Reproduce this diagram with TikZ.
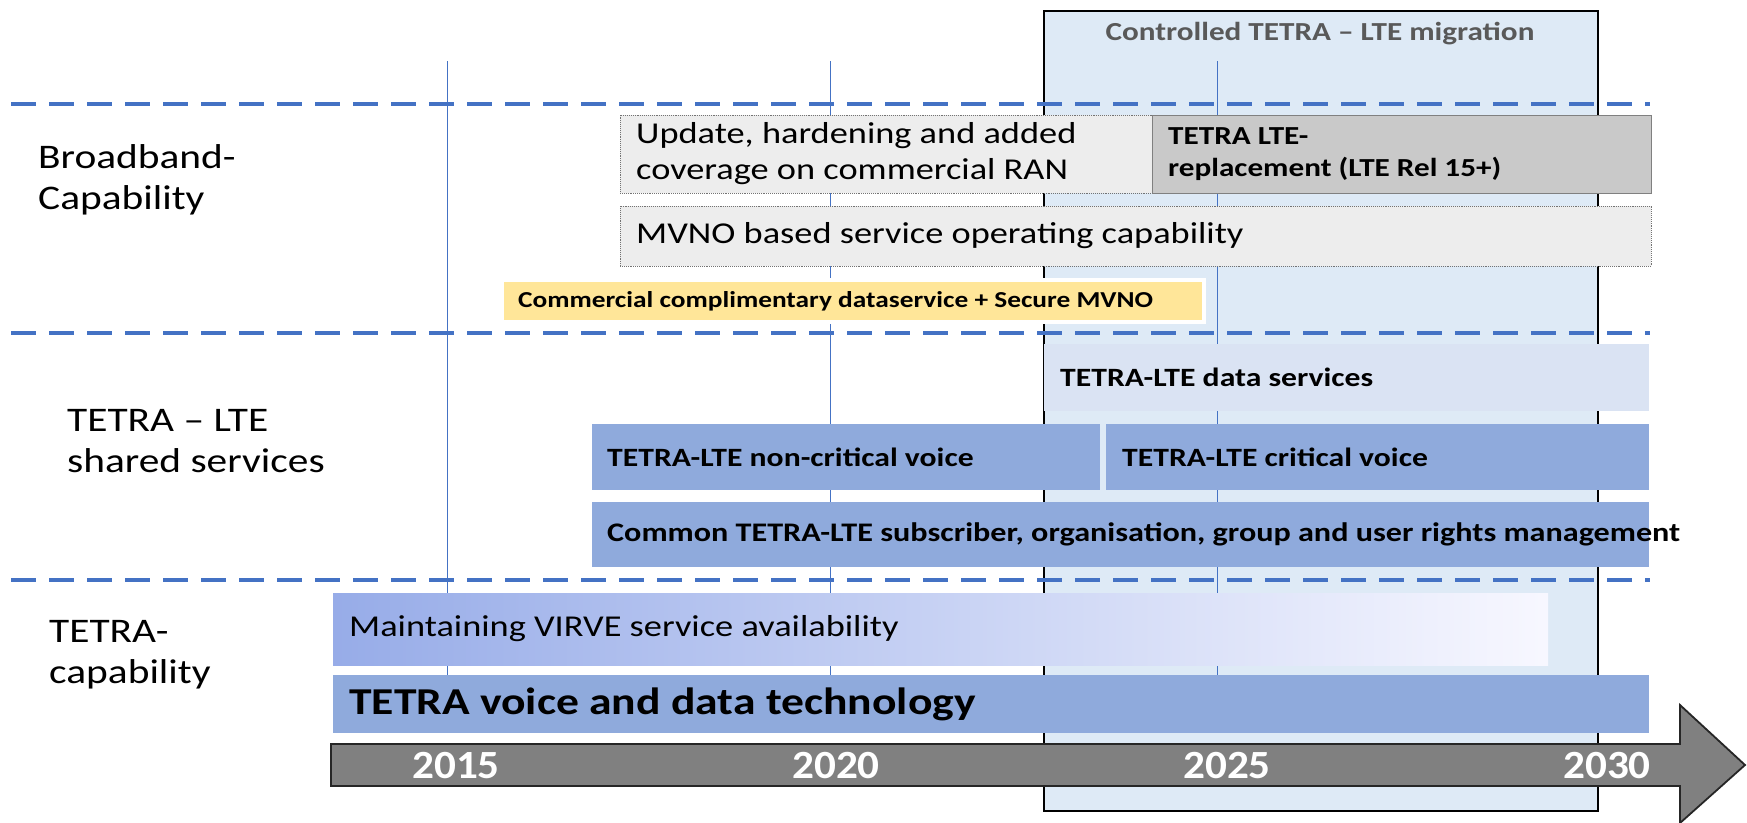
\documentclass[tikz,border=0pt]{standalone}
\usepackage{fontspec}
\setmainfont{Carlito}[FakeStretch=1.2]
\newfontfamily\yearfont{Carlito}[FakeStretch=1.08]
\definecolor{migfill}{HTML}{DEEAF6}
\definecolor{dashblue}{HTML}{4472C4}
\definecolor{greybox}{HTML}{EDEDED}
\definecolor{darkgreybox}{HTML}{C9C9C9}
\definecolor{yellowbox}{HTML}{FFE699}
\definecolor{paleblue}{HTML}{DAE3F3}
\definecolor{midblue}{HTML}{8FAADC}
\definecolor{gradleft}{HTML}{97ACE8}
\definecolor{titlegrey}{HTML}{595959}
\definecolor{axisgrey}{HTML}{808080}
\begin{document}
\begin{tikzpicture}[x=1pt,y=-1pt]
\tikzset{
  bar/.style={anchor=north west, inner sep=0pt, outer sep=0pt},
  lightbar/.style={bar, fill=greybox, draw=black!55, densely dotted, line width=0.9pt},
  regtext/.style={anchor=west, inner sep=0pt, font=\fontsize{30.3}{36}\selectfont},
  boldtext/.style={anchor=west, inner sep=0pt, font=\bfseries\fontsize{26.4}{32}\selectfont},
  sidelabel/.style={anchor=west, inner sep=0pt, align=left, font=\fontsize{34.5}{41}\selectfont},
  sep/.style={dashblue, line width=4.5pt, dash pattern=on 25pt off 13pt},
  yearline/.style={dashblue, line width=1pt},
  yeartext/.style={text=white, font=\yearfont\bfseries\fontsize{40}{44}\selectfont, inner sep=0pt},
}
\useasboundingbox (0,0) rectangle (1747,822);
% migration window
\node[bar, fill=migfill, draw=black, line width=1.8pt, minimum width=554pt, minimum height=800pt] (mig) at (1044,11) {};
\node[text=titlegrey, font=\bfseries\fontsize{26}{32}\selectfont, inner sep=0pt] (migtitle) at (1320,34) {Controlled TETRA – LTE migration};
% year grid lines
\coordinate (y15top) at (447,61);  \coordinate (y15bot) at (447,675);
\coordinate (y20top) at (830,61);  \coordinate (y20bot) at (830,675);
\coordinate (y25top) at (1217,61); \coordinate (y25bot) at (1217,675);
\draw[yearline] (y15top) -- (y15bot);
\draw[yearline] (y20top) -- (y20bot);
\draw[yearline] (y25top) -- (y25bot);
% separators
\coordinate (s1a) at (11,104); \coordinate (s1b) at (1650,104);
\coordinate (s2a) at (11,333); \coordinate (s2b) at (1650,333);
\coordinate (s3a) at (11,580); \coordinate (s3b) at (1650,580);
\draw[sep] (s1a) -- (s1b);
\draw[sep] (s2a) -- (s2b);
\draw[sep] (s3a) -- (s3b);
% side labels
\node[sidelabel] (lblbb) at (38,180) {Broadband-\\Capability};
\node[sidelabel] (lblsh) at (67,441) {TETRA – LTE\\shared services};
\node[sidelabel] (lbltc) at (49,655) {TETRA-\\capability};
% broadband bars
\node[lightbar, minimum width=534pt, minimum height=78pt] (upd) at (620,115) {};
\node[regtext, align=left] (updt) at ([xshift=16pt]upd.west) {Update, hardening and added\\coverage on commercial RAN};
\node[bar, fill=darkgreybox, draw=black!50, line width=0.8pt, minimum width=499pt, minimum height=78pt] (repl) at (1152,115) {};
\node[boldtext, align=left, font=\bfseries\fontsize{26}{32}\selectfont] (replt) at ([xshift=16pt]repl.west) {TETRA LTE-\\replacement (LTE Rel 15+)};
\node[lightbar, minimum width=1031pt, minimum height=60pt] (mvno) at (620,206) {};
\node[regtext] (mvnot) at ([xshift=16pt]mvno.west) {MVNO based service operating capability};
\node[bar, fill=yellowbox, draw=white, line width=4pt, minimum width=702pt, minimum height=42pt] (yel) at (502,280) {};
\node[boldtext, font=\bfseries\fontsize{22.8}{27}\selectfont] (yelt) at ([xshift=16pt]yel.west) {Commercial complimentary dataservice + Secure MVNO};
% shared services bars
\node[bar, fill=paleblue, minimum width=605pt, minimum height=67pt] (data) at (1044,344) {};
\node[boldtext] (datat) at ([xshift=16pt]data.west) {TETRA-LTE data services};
\node[bar, fill=midblue, minimum width=508pt, minimum height=66pt] (ncv) at (592,424) {};
\node[boldtext] (ncvt) at ([xshift=15pt]ncv.west) {TETRA-LTE non-critical voice};
\node[bar, fill=midblue, minimum width=543pt, minimum height=66pt] (cv) at (1106,424) {};
\node[boldtext] (cvt) at ([xshift=16pt]cv.west) {TETRA-LTE critical voice};
\node[bar, fill=midblue, minimum width=1057pt, minimum height=65pt] (com) at (592,502) {};
\node[boldtext, font=\bfseries\fontsize{26.8}{32}\selectfont] (comt) at ([xshift=15pt]com.west) {Common TETRA-LTE subscriber, organisation, group and user rights management};
% TETRA capability bars
\node[bar, left color=gradleft, right color=white!97!blue, minimum width=1215pt, minimum height=72pt] (maint) at (333,593) {};
\node[regtext] (maintt) at ([xshift=16pt]maint.west) {Maintaining VIRVE service availability};
\node[bar, fill=midblue, minimum width=1316pt, minimum height=58pt] (tvd) at (333,675) {};
\node[boldtext, font=\bfseries\fontsize{38}{44}\selectfont] (tvdt) at ([xshift=16pt]tvd.west) {TETRA voice and data technology};
% time axis
\draw[fill=axisgrey, draw=black!85, line width=1.8pt, line join=miter]
  (331,744) -- (1680,744) -- (1680,705) -- (1745,765) -- (1680,823) -- (1680,786) -- (331,786) -- cycle;
\node[yeartext] (t15) at (456,766) {2015};
\node[yeartext] (t20) at (836,766) {2020};
\node[yeartext] (t25) at (1227,766) {2025};
\node[yeartext] (t30) at (1607,766) {2030};
\end{tikzpicture}
\end{document}
